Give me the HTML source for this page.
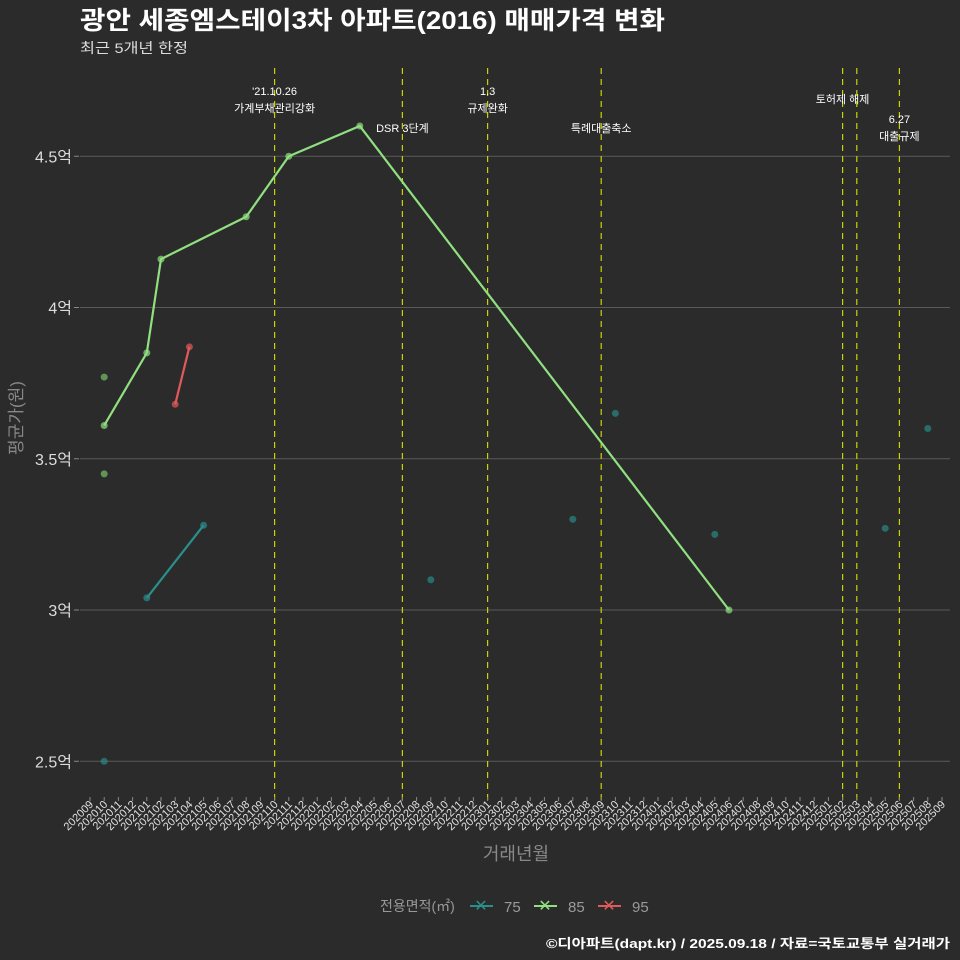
<!DOCTYPE html>
<html><head><meta charset="utf-8"><style>
body{margin:0;background:#2b2b2b;}
svg{display:block;font-family:"Liberation Sans","Noto Sans CJK KR",sans-serif;}
</style></head><body>
<svg id="c" width="960" height="960" viewBox="0 0 960 960">
<rect width="960" height="960" fill="#2b2b2b"/>
<text x="80" y="29" font-size="25" font-weight="bold" fill="#ffffff" textLength="585" lengthAdjust="spacingAndGlyphs">광안 세종엠스테이3차 아파트(2016) 매매가격 변화</text>
<text x="80" y="53" font-size="14" fill="#dddddd" textLength="108" lengthAdjust="spacingAndGlyphs">최근 5개년 한정</text>
<g id="grid"></g><g id="vlines"></g><g id="series"></g><g id="xaxis"></g><g id="yaxis"></g>
<text x="0" y="0" transform="translate(22,418) rotate(-90)" text-anchor="middle" font-size="17" fill="#888">평균가(원)</text>
<text x="516" y="860" text-anchor="middle" font-size="18" fill="#888">거래년월</text>
<g>
<text x="380" y="911" font-size="14" fill="#999">전용면적(㎡)</text>
<g><line x1="470" y1="906" x2="493" y2="906" stroke="#2a8f8c" stroke-width="2"/><text x="481" y="911" text-anchor="middle" font-size="16" fill="#2a8f8c">✕</text><text x="504" y="912" font-size="15" fill="#999">75</text></g>
<g><line x1="534" y1="906" x2="557" y2="906" stroke="#90e080" stroke-width="2"/><text x="545" y="911" text-anchor="middle" font-size="16" fill="#90e080">✕</text><text x="568" y="912" font-size="15" fill="#999">85</text></g>
<g><line x1="598" y1="906" x2="621" y2="906" stroke="#e05a5a" stroke-width="2"/><text x="609" y="911" text-anchor="middle" font-size="16" fill="#e05a5a">✕</text><text x="632" y="912" font-size="15" fill="#999">95</text></g>
</g>
<text x="950" y="948" text-anchor="end" font-size="13" font-weight="bold" fill="#ffffff" textLength="404" lengthAdjust="spacingAndGlyphs">©디아파트(dapt.kr) / 2025.09.18 / 자료=국토교통부 실거래가</text>
</svg>
<script>
const months=[];for(let y=2020,m=9;!(y===2025&&m===10);){months.push(y+String(m).padStart(2,'0'));m++;if(m>12){m=1;y++;}}
const yTicks=[2.5,3,3.5,4,4.5];
const yTickLabels=['2.5억','3억','3.5억','4억','4.5억'];
const line85Months=['202010','202101','202102','202108','202111','202204','202406'];
const line85Values=[3.61,3.85,4.16,4.30,4.50,4.60,3.00];
const line95Months=['202103','202104'];
const line95Values=[3.68,3.87];
const line75Months=['202101','202105'];
const line75Values=[3.04,3.28];
const pts85Months=['202010','202010'];
const pts85Values=[3.77,3.45];
const pts75Months=['202010','202209','202307','202310','202405','202505','202508'];
const pts75Values=[2.50,3.10,3.30,3.65,3.25,3.27,3.60];
const eventMonths=['202110','202207','202301','202309','202502','202503','202506'];
const eventLabels=[["'21.10.26","가계부채관리강화"],["DSR 3단계"],["1.3","규제완화"],["특례대출축소"],["토허제 해제"],[],["6.27","대출규제"]];
const eventLabelX=[0,0,0,0,0,0,0];
const eventLabelY=[95,132,95,132,103,0,123];
const NS='http://www.w3.org/2000/svg';
const xs=m=>90+months.indexOf(m)*14.2;
const ys=v=>610-(v-3)*302.5;
function mk(t,a,p){const e=document.createElementNS(NS,t);for(const k in a)e.setAttribute(k,a[k]);p.appendChild(e);return e;}
const grid=document.getElementById('grid'),ya=document.getElementById('yaxis');
yTicks.forEach((v,i)=>{const l=mk('line',{x1:80,x2:950,y1:ys(v),y2:ys(v),stroke:'#5a5a5a','stroke-width':1},grid);


const t=mk('text',{x:72,y:ys(v)+6,'text-anchor':'end','font-size':16,fill:'#dddddd'},ya);t.textContent=yTickLabels[i];


mk('line',{x1:74,x2:79,y1:ys(v),y2:ys(v),stroke:'#888'},ya);});
const xa=document.getElementById('xaxis');
months.forEach(m=>{const x=xs(m);mk('line',{x1:x,x2:x,y1:797,y2:801,stroke:'#888'},xa);
const t=mk('text',{x:x+4,y:805,'text-anchor':'end','font-size':11,fill:'#e0e0e0',transform:`rotate(-45 ${x+4} 805)`},xa);t.textContent=m;

});
const vl=document.getElementById('vlines');
eventMonths.forEach((m,i)=>{const x=xs(m);const l=mk('line',{x1:x,x2:x,y1:68,y2:800,stroke:'#c8d400','stroke-width':1.2,'stroke-dasharray':'6,5'},vl);


eventLabels[i].forEach((s,j)=>{const t=mk('text',{x:x+eventLabelX[i],y:eventLabelY[i]+j*17,'text-anchor':'middle','font-size':11,fill:'#ffffff'},vl);t.textContent=s;

});});
const sg=document.getElementById('series');
function drawLine(ms,vs,c,name){const p=mk('polyline',{points:ms.map((m,i)=>xs(m)+','+ys(vs[i])).join(' '),fill:'none',stroke:c,'stroke-width':2.2},sg);


ms.forEach((m,i)=>{const d=mk('circle',{cx:xs(m),cy:ys(vs[i]),r:3.5,fill:c,opacity:0.7},sg);

});}
function drawPts(ms,vs,c){ms.forEach((m,i)=>{const d=mk('circle',{cx:xs(m),cy:ys(vs[i]),r:3.5,fill:c,opacity:0.65},sg);

});}
drawPts(pts85Months,pts85Values,'#7ccc6c');
drawPts(pts75Months,pts75Values,'#2a8f8c');
drawLine(line75Months,line75Values,'#2a8f8c','line-75');
drawLine(line85Months,line85Values,'#90e080','line-85');
drawLine(line95Months,line95Values,'#e05a5a','line-95');
</script>
</body></html>
